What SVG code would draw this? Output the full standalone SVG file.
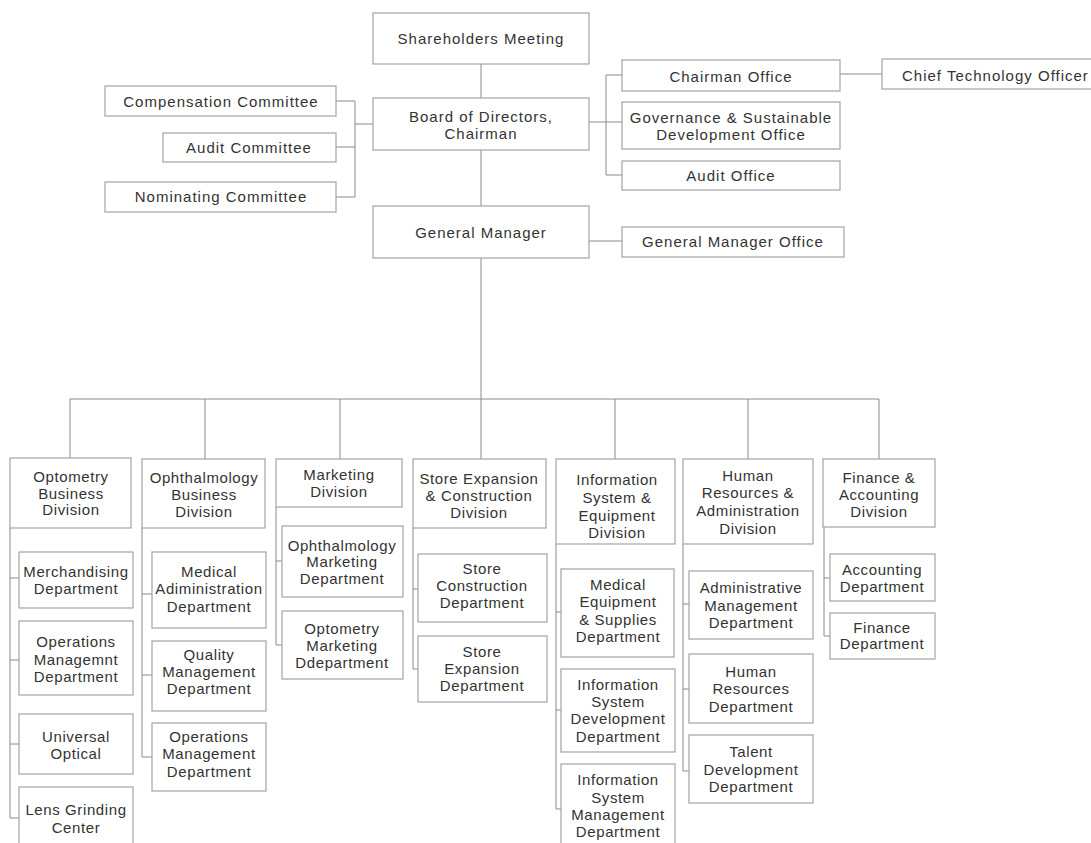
<svg xmlns="http://www.w3.org/2000/svg" width="1091" height="843" viewBox="0 0 1091 843">
  <style>
    .box { fill: #ffffff; stroke: #a3a3a3; stroke-width: 1.2; }
    .t { font-family: "Liberation Sans", Arial, sans-serif; font-size: 15px; fill: #333333; text-anchor: middle; letter-spacing: 1px; }
    .d { font-family: "Liberation Sans", Arial, sans-serif; font-size: 15px; fill: #333333; text-anchor: middle; letter-spacing: 0.6px; }
    .conn { fill: none; stroke: #8a8a8a; stroke-width: 1; }
  </style>
  <rect width="1091" height="843" fill="#ffffff"/>

  <!-- connectors -->
  <g id="connectors" class="conn">
    <path d="M481 64 V98"/>
    <path d="M481 150 V206"/>
    <path d="M336 101 H355 M336 147 H355 M336 197 H355 M355 101 V197 M355 124 H373"/>
    <path d="M589 122 H622 M606 75 V175 M606 75 H622 M606 175 H622"/>
    <path d="M840 74 H882"/>
    <path d="M589 241 H622"/>
    <path d="M481 258 V459"/>
    <path d="M70 399 H879"/>
    <path d="M70 399 V458 M205 399 V459 M340 399 V459 M615 399 V459 M748 399 V459 M879 399 V459"/>
    <path d="M10 528 V818 M10 578 H19 M10 660 H19 M10 744 H19 M10 818 H19"/>
    <path d="M142 528 V757 M142 594 H152 M142 675 H152 M142 757 H152"/>
    <path d="M276 507 V645 M276 561 H282 M276 645 H282"/>
    <path d="M413 528 V669 M413 589 H418 M413 669 H418"/>
    <path d="M556 544 V809 M556 612 H561 M556 710 H561 M556 809 H561"/>
    <path d="M683 544 V771 M683 604 H689 M683 689 H689 M683 771 H689"/>
    <path d="M824 527 V636 M824 578 H830 M824 636 H830"/>
  </g>

  <!-- governance level -->
  <g id="shareholders-meeting">
    <rect class="box" x="373" y="13" width="216" height="51"/>
    <text class="t" x="481" y="44">Shareholders Meeting</text>
  </g>
  <g id="board-of-directors">
    <rect class="box" x="373" y="98" width="216" height="52"/>
    <text class="t" x="481" y="122">Board of Directors,</text>
    <text class="t" x="481" y="139">Chairman</text>
  </g>
  <g id="compensation-committee">
    <rect class="box" x="105" y="86" width="231" height="30"/>
    <text class="t" x="221" y="107">Compensation Committee</text>
  </g>
  <g id="audit-committee">
    <rect class="box" x="163" y="133" width="173" height="29"/>
    <text class="t" x="249" y="153">Audit Committee</text>
  </g>
  <g id="nominating-committee">
    <rect class="box" x="105" y="182" width="231" height="30"/>
    <text class="t" x="221" y="202">Nominating Committee</text>
  </g>
  <g id="chairman-office">
    <rect class="box" x="622" y="60" width="218" height="31"/>
    <text class="t" x="731" y="82">Chairman Office</text>
  </g>
  <g id="chief-technology-officer">
    <rect class="box" x="882" y="59" width="240" height="30"/>
    <text class="t" x="902" y="81" style="text-anchor:start">Chief Technology Officer</text>
  </g>
  <g id="governance-office">
    <rect class="box" x="622" y="102" width="218" height="47"/>
    <text class="t" x="731" y="123">Governance &amp; Sustainable</text>
    <text class="t" x="731" y="140">Development Office</text>
  </g>
  <g id="audit-office">
    <rect class="box" x="622" y="161" width="218" height="29"/>
    <text class="t" x="731" y="181">Audit Office</text>
  </g>
  <g id="general-manager">
    <rect class="box" x="373" y="206" width="216" height="52"/>
    <text class="t" x="481" y="238">General Manager</text>
  </g>
  <g id="general-manager-office">
    <rect class="box" x="622" y="227" width="222" height="30"/>
    <text class="t" x="733" y="247">General Manager Office</text>
  </g>

  <!-- divisions -->
  <g id="optometry-division">
    <rect class="box" x="10" y="458" width="121" height="70"/>
    <text class="d" x="71" y="482">Optometry</text>
    <text class="d" x="71" y="499">Business</text>
    <text class="d" x="71" y="515">Division</text>
  </g>
  <g id="ophthalmology-division">
    <rect class="box" x="142" y="459" width="123" height="69"/>
    <text class="d" x="204" y="483">Ophthalmology</text>
    <text class="d" x="204" y="500">Business</text>
    <text class="d" x="204" y="517">Division</text>
  </g>
  <g id="marketing-division">
    <rect class="box" x="276" y="459" width="126" height="48"/>
    <text class="d" x="339" y="480">Marketing</text>
    <text class="d" x="339" y="497">Division</text>
  </g>
  <g id="store-division">
    <rect class="box" x="413" y="459" width="133" height="69"/>
    <text class="d" x="479" y="484">Store Expansion</text>
    <text class="d" x="479" y="501">&amp; Construction</text>
    <text class="d" x="479" y="518">Division</text>
  </g>
  <g id="information-division">
    <rect class="box" x="556" y="459" width="119" height="85"/>
    <text class="d" x="617" y="485">Information</text>
    <text class="d" x="617" y="503">System &amp;</text>
    <text class="d" x="617" y="521">Equipment</text>
    <text class="d" x="617" y="538">Division</text>
  </g>
  <g id="hr-division">
    <rect class="box" x="683" y="459" width="130" height="85"/>
    <text class="d" x="748" y="481">Human</text>
    <text class="d" x="748" y="498">Resources &amp;</text>
    <text class="d" x="748" y="516">Administration</text>
    <text class="d" x="748" y="534">Division</text>
  </g>
  <g id="finance-division">
    <rect class="box" x="823" y="459" width="112" height="68"/>
    <text class="d" x="879" y="483">Finance &amp;</text>
    <text class="d" x="879" y="500">Accounting</text>
    <text class="d" x="879" y="517">Division</text>
  </g>

  <!-- optometry departments -->
  <g id="merchandising">
    <rect class="box" x="19" y="552" width="114" height="56"/>
    <text class="d" x="76" y="577">Merchandising</text>
    <text class="d" x="76" y="594">Department</text>
  </g>
  <g id="operations-optometry">
    <rect class="box" x="19" y="621" width="114" height="74"/>
    <text class="d" x="76" y="647">Operations</text>
    <text class="d" x="76" y="665">Managemnt</text>
    <text class="d" x="76" y="682">Department</text>
  </g>
  <g id="universal-optical">
    <rect class="box" x="19" y="714" width="114" height="60"/>
    <text class="d" x="76" y="742">Universal</text>
    <text class="d" x="76" y="759">Optical</text>
  </g>
  <g id="lens-grinding">
    <rect class="box" x="19" y="787" width="114" height="70"/>
    <text class="d" x="76" y="815">Lens Grinding</text>
    <text class="d" x="76" y="833">Center</text>
  </g>

  <!-- ophthalmology departments -->
  <g id="medical-administration">
    <rect class="box" x="152" y="552" width="114" height="76"/>
    <text class="d" x="209" y="577">Medical</text>
    <text class="d" x="209" y="594">Adiministration</text>
    <text class="d" x="209" y="612">Department</text>
  </g>
  <g id="quality-management">
    <rect class="box" x="152" y="641" width="114" height="70"/>
    <text class="d" x="209" y="660">Quality</text>
    <text class="d" x="209" y="677">Management</text>
    <text class="d" x="209" y="694">Department</text>
  </g>
  <g id="operations-ophthalmology">
    <rect class="box" x="152" y="723" width="114" height="68"/>
    <text class="d" x="209" y="742">Operations</text>
    <text class="d" x="209" y="759">Management</text>
    <text class="d" x="209" y="777">Department</text>
  </g>

  <!-- marketing departments -->
  <g id="ophthalmology-marketing">
    <rect class="box" x="282" y="526" width="121" height="71"/>
    <text class="d" x="342" y="551">Ophthalmology</text>
    <text class="d" x="342" y="567">Marketing</text>
    <text class="d" x="342" y="584">Department</text>
  </g>
  <g id="optometry-marketing">
    <rect class="box" x="282" y="611" width="121" height="68"/>
    <text class="d" x="342" y="634">Optometry</text>
    <text class="d" x="342" y="651">Marketing</text>
    <text class="d" x="342" y="668">Ddepartment</text>
  </g>

  <!-- store departments -->
  <g id="store-construction">
    <rect class="box" x="418" y="554" width="129" height="68"/>
    <text class="d" x="482" y="574">Store</text>
    <text class="d" x="482" y="591">Construction</text>
    <text class="d" x="482" y="608">Department</text>
  </g>
  <g id="store-expansion">
    <rect class="box" x="418" y="636" width="129" height="66"/>
    <text class="d" x="482" y="657">Store</text>
    <text class="d" x="482" y="674">Expansion</text>
    <text class="d" x="482" y="691">Department</text>
  </g>

  <!-- information departments -->
  <g id="medical-equipment">
    <rect class="box" x="561" y="569" width="113" height="88"/>
    <text class="d" x="618" y="590">Medical</text>
    <text class="d" x="618" y="607">Equipment</text>
    <text class="d" x="618" y="625">&amp; Supplies</text>
    <text class="d" x="618" y="642">Department</text>
  </g>
  <g id="is-development">
    <rect class="box" x="561" y="669" width="114" height="83"/>
    <text class="d" x="618" y="690">Information</text>
    <text class="d" x="618" y="707">System</text>
    <text class="d" x="618" y="724">Development</text>
    <text class="d" x="618" y="742">Department</text>
  </g>
  <g id="is-management">
    <rect class="box" x="561" y="764" width="114" height="90"/>
    <text class="d" x="618" y="785">Information</text>
    <text class="d" x="618" y="803">System</text>
    <text class="d" x="618" y="820">Management</text>
    <text class="d" x="618" y="837">Department</text>
  </g>

  <!-- hr departments -->
  <g id="administrative-management">
    <rect class="box" x="689" y="571" width="124" height="68"/>
    <text class="d" x="751" y="593">Administrative</text>
    <text class="d" x="751" y="611">Management</text>
    <text class="d" x="751" y="628">Department</text>
  </g>
  <g id="human-resources">
    <rect class="box" x="689" y="654" width="124" height="69"/>
    <text class="d" x="751" y="677">Human</text>
    <text class="d" x="751" y="694">Resources</text>
    <text class="d" x="751" y="712">Department</text>
  </g>
  <g id="talent-development">
    <rect class="box" x="689" y="735" width="124" height="68"/>
    <text class="d" x="751" y="757">Talent</text>
    <text class="d" x="751" y="775">Development</text>
    <text class="d" x="751" y="792">Department</text>
  </g>

  <!-- finance departments -->
  <g id="accounting">
    <rect class="box" x="830" y="554" width="105" height="47"/>
    <text class="d" x="882" y="575">Accounting</text>
    <text class="d" x="882" y="592">Department</text>
  </g>
  <g id="finance">
    <rect class="box" x="830" y="613" width="105" height="46"/>
    <text class="d" x="882" y="633">Finance</text>
    <text class="d" x="882" y="649">Department</text>
  </g>
</svg>
